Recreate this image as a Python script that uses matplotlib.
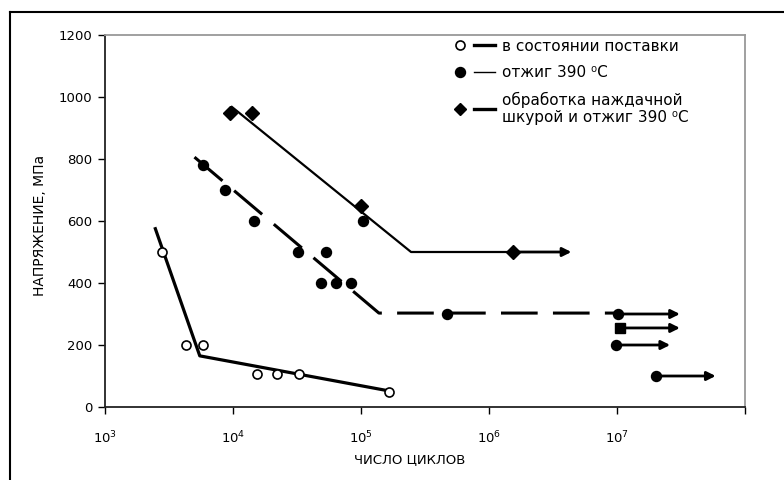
import matplotlib
matplotlib.use("Agg")
import matplotlib.pyplot as plt
from matplotlib.lines import Line2D
from matplotlib.legend_handler import HandlerTuple

plt.rcParams['font.family'] = ['DejaVu Sans']
plt.rcParams['mathtext.fontset'] = 'dejavusans'

# --- data ---
# series 1: "в состоянии поставки" (open circles)
s1_n = [2.8e3, 4.3e3, 5.8e3, 1.55e4, 2.2e4, 3.3e4, 1.66e5]
s1_s = [500, 200, 200, 105, 105, 105, 50]
s1_line_n = [2.45e3, 5.5e3, 1.65e5]
s1_line_s = [580, 165, 52]

# series 2: "отжиг 390 °C" (filled circles, dashed line)
s2_n = [5.8e3, 8.6e3, 1.45e4, 3.2e4, 5.3e4, 4.9e4, 6.4e4, 8.3e4, 1.03e5, 4.7e5, 1.02e7]
s2_s = [780, 700, 600, 500, 500, 400, 400, 400, 600, 300, 300]
s2_line_n = [5.0e3, 1.38e5, 1.02e7]
s2_line_s = [806, 303, 303]

# series 3: "обработка наждачной шкурой и отжиг 390 °C" (diamonds)
s3_n = [9.4e3, 1.4e4, 1.0e5, 1.55e6]
s3_s = [950, 950, 650, 500]
s3_line_n = [9.8e3, 2.46e5, 1.55e6]
s3_line_s = [968, 500, 500]

# run-out specimens (arrows)
run_n0 = [1.55e6, 1.02e7, 1.05e7, 9.8e6, 2.0e7]
run_n1 = [4.4e6, 3.1e7, 3.1e7, 2.6e7, 5.9e7]
run_s = [500, 300, 255, 200, 100]
extra_sq_n = [1.05e7]
extra_sq_s = [255]
extra_c_n = [9.8e6, 2.0e7]
extra_c_s = [200, 100]

y_ticks = [0, 200, 400, 600, 800, 1000, 1200]
x_ticks = [1e3, 1e4, 1e5, 1e6, 1e7]
x_ticklabels = ['10$^{3}$', '10$^{4}$', '10$^{5}$', '10$^{6}$', '10$^{7}$']

labels = ['в состоянии поставки', 'отжиг 390 ⁰C',
          'обработка наждачной\nшкурой и отжиг 390 ⁰C']

fig = plt.figure(figsize=(7.84, 4.8), dpi=100)
ax = fig.add_axes([105/784, 1-407/480, (745-105)/784, (407-35)/480])

ax.set_xscale('log')
ax.set_xlim(1e3, 1e8)
ax.set_ylim(0, 1200)

# lines
ax.plot(s1_line_n, s1_line_s, color='black', lw=2.3, solid_capstyle='butt')
ax.plot(s2_line_n, s2_line_s, color='black', lw=2.2, dashes=(12, 5))
ax.plot(s3_line_n, s3_line_s, color='black', lw=1.6)

# arrows
for n0, n1, s in zip(run_n0, run_n1, run_s):
    ax.annotate('', xy=(n1, s), xytext=(n0, s),
                arrowprops=dict(arrowstyle='-|>', color='black', lw=2.0,
                                mutation_scale=13, shrinkA=0, shrinkB=0))

# markers
ax.plot(s1_n, s1_s, 'o', ms=6.5, mfc='white', mec='black', mew=1.2, ls='none')
ax.plot(s2_n, s2_s, 'o', ms=7.2, color='black', ls='none')
ax.plot(s3_n, s3_s, 'D', ms=6.8, color='black', ls='none')
ax.plot(extra_sq_n, extra_sq_s, 's', ms=7, color='black', ls='none')
ax.plot(extra_c_n, extra_c_s, 'o', ms=7.2, color='black', ls='none')

# axes styling
ax.set_yticks(y_ticks)
ax.set_yticklabels([str(v) for v in y_ticks], fontsize=9.5)
ax.set_xticks(x_ticks + [1e8])
ax.set_xticklabels(x_ticklabels + [''], fontsize=9.5)
ax.minorticks_off()
ax.tick_params(axis='both', direction='out', length=5, width=1.0, color='black')
ax.tick_params(axis='x', pad=11)
ax.tick_params(axis='y', pad=4)
for side in ['left', 'bottom']:
    ax.spines[side].set_color('#222222')
    ax.spines[side].set_linewidth(1.3)
for side in ['top', 'right']:
    ax.spines[side].set_color('#999999')
    ax.spines[side].set_linewidth(1.3)

ax.set_xlabel('ЧИСЛО ЦИКЛОВ', fontsize=9.5)
ax.xaxis.set_label_coords((410 - 105) / 640, -(453 - 407) / 372)
ax.set_ylabel('НАПРЯЖЕНИЕ, МПа', fontsize=10)
ax.yaxis.set_label_coords(-(105 - 47) / 640, (407 - 225) / 372)

# legend: marker followed by a short line, as in the original
mk1 = Line2D([], [], ls='none', marker='o', ms=6.5, mfc='white', mec='black', mew=1.2)
ln1 = Line2D([], [], color='black', lw=2.4)
mk2 = Line2D([], [], ls='none', marker='o', ms=7.2, mfc='black', mec='black')
ln2 = Line2D([], [], color='black', lw=1.0)
mk3 = Line2D([], [], ls='none', marker='D', ms=6.5, mfc='black', mec='black')
ln3 = Line2D([], [], color='black', lw=2.4)
leg = fig.legend([(mk1, ln1), (mk2, ln2), (mk3, ln3)], labels, loc='upper left',
                 bbox_to_anchor=(442/784, 1 - 31/480), frameon=False,
                 fontsize=11, handlelength=3.0, handletextpad=0.4,
                 labelspacing=0.75, borderpad=0,
                 handler_map={tuple: HandlerTuple(ndivide=None, pad=0.2)})

# outer frame (partially visible)
fig.add_artist(Line2D([10/784, 1.0], [1-12/480, 1-12/480], color='black', lw=1.5,
                      transform=fig.transFigure))
fig.add_artist(Line2D([10/784, 10/784], [0.0, 1-12/480], color='black', lw=1.5,
                      transform=fig.transFigure))

fig.savefig('out.png', dpi=100)
